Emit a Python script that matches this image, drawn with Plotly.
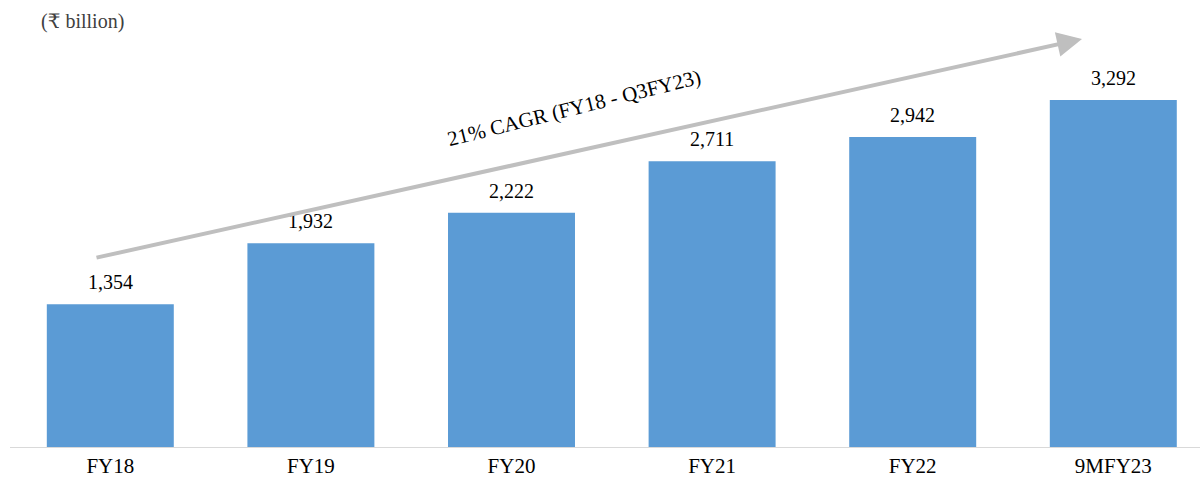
import plotly.graph_objects as go

categories = ["FY18", "FY19", "FY20", "FY21", "FY22", "9MFY23"]
values = [1354, 1932, 2222, 2711, 2942, 3292]
labels = ["1,354", "1,932", "2,222", "2,711", "2,942", "3,292"]
cagr_text = "21% CAGR (FY18 - Q3FY23)"
unit_symbol = "₹"
unit_word = "billion"

W, H = 1200, 479
L, R, T, B = 10, 0, 20, 32
plot_w = W - L - R
plot_h = H - T - B
spacing = 200.6
x0 = -0.5
x1 = x0 + plot_w / spacing
px_per_unit = 347 / 3292.0
ymax = plot_h / px_per_unit

xs = list(range(len(categories)))
FONT = "Liberation Serif, 'Times New Roman', serif"

fig = go.Figure()
fig.add_trace(go.Bar(
    x=xs, y=values, width=0.633,
    marker=dict(color="#5B9BD5", line=dict(width=0)),
    hoverinfo="skip",
))

annotations = []
for xi, v, lab in zip(xs, values, labels):
    annotations.append(dict(
        x=xi, y=v, xref="x", yref="y", text=lab, showarrow=False,
        yanchor="bottom", yshift=9,
        font=dict(family=FONT, size=20, color="#000000"),
    ))

def px_to_x(px):
    return x0 + (px - L) / spacing

def px_to_y(py):
    return (T + plot_h - py) / px_per_unit

# arrow
head_px, head_py = 1082, 39
tail_px, tail_py = 95, 258
annotations.append(dict(
    x=px_to_x(head_px), y=px_to_y(head_py), xref="x", yref="y",
    ax=tail_px - head_px, ay=tail_py - head_py, axref="pixel", ayref="pixel",
    showarrow=True, arrowhead=2, arrowsize=1.25, arrowwidth=4,
    arrowcolor="#BFBFBF", text="",
))
# CAGR text
annotations.append(dict(
    x=px_to_x(574), y=px_to_y(108), xref="x", yref="y",
    text=cagr_text, showarrow=False, textangle=-14,
    font=dict(family=FONT, size=21, color="#000000"),
))
# unit label
unit_html = ("(<span style=\"font-family:'DejaVu Serif'\">" + unit_symbol +
             "</span> " + unit_word + ")")
annotations.append(dict(
    x=(39 - L) / plot_w, y=(T + plot_h - 21) / plot_h, xref="paper", yref="paper",
    xanchor="left", yanchor="middle",
    text=unit_html, showarrow=False,
    font=dict(family=FONT, size=20, color="#404040"),
))

fig.update_layout(
    width=W, height=H,
    margin=dict(l=L, r=R, t=T, b=B, pad=0),
    paper_bgcolor="white", plot_bgcolor="white",
    showlegend=False,
    annotations=annotations,
    xaxis=dict(
        range=[x0, x1], tickmode="array", tickvals=xs, ticktext=categories,
        showgrid=False, zeroline=False, showline=True, linecolor="#D9D9D9",
        linewidth=1, ticks="", tickfont=dict(family=FONT, size=21, color="#000000"),
        fixedrange=True,
    ),
    yaxis=dict(
        range=[0, ymax], visible=False, showgrid=False, zeroline=False,
        fixedrange=True,
    ),
)

fig.write_html("out.html", config={"displayModeBar": False})
